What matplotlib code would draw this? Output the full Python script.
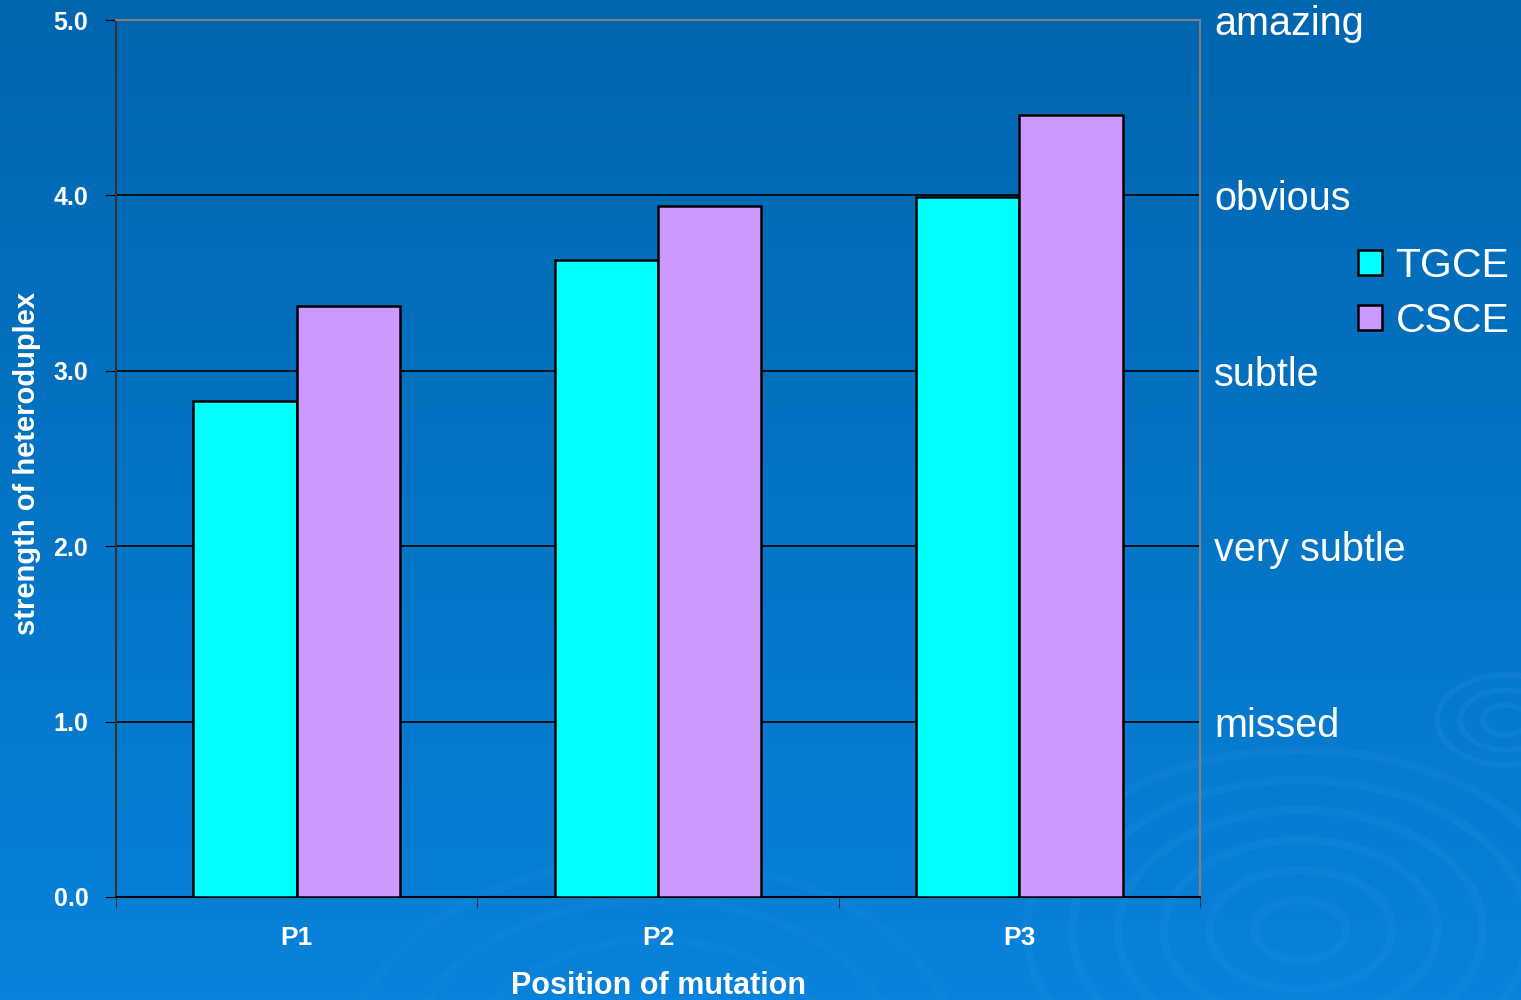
import numpy as np
import matplotlib.pyplot as plt
from matplotlib.patches import Patch, Circle

plt.rcParams['font.family'] = ['Liberation Sans', 'DejaVu Sans']

positions = ["P1", "P2", "P3"]
tgce = [2.83, 3.63, 3.99]
csce = [3.37, 3.94, 4.46]
right_levels = [1, 2, 3, 4, 5]
right_labels = ["missed", "very subtle", "subtle", "obvious", "amazing"]

fig = plt.figure(figsize=(15.21, 10), dpi=100)

# blue gradient background
bg = fig.add_axes([0, 0, 1, 1], zorder=-10)
grad = np.linspace(0, 1, 256).reshape(-1, 1)
c_top = np.array([0x00, 0x66, 0xb0]) / 255
c_bot = np.array([0x08, 0x82, 0xda]) / 255
img = c_top + (c_bot - c_top) * grad[..., None]
bg.imshow(img, aspect='auto', extent=[0, 1, 0, 1], origin='upper')
# faint ripples
for r in [0.03, 0.06, 0.09, 0.12, 0.15, 0.18]:
    bg.add_patch(Circle((0.855, 0.07), r, transform=bg.transAxes, fill=False,
                        ec='#2a95e6', lw=6, alpha=0.18))
for r in [0.12, 0.16, 0.2]:
    bg.add_patch(Circle((0.43, -0.06), r, transform=bg.transAxes, fill=False,
                        ec='#2a95e6', lw=6, alpha=0.12))
for r in [0.015, 0.03, 0.045]:
    bg.add_patch(Circle((0.99, 0.28), r, transform=bg.transAxes, fill=False,
                        ec='#2a8ee0', lw=4, alpha=0.25))
bg.set_xlim(0, 1)
bg.set_ylim(0, 1)
bg.axis('off')

ax = fig.add_axes([0.0763, 0.103, 0.7127, 0.877])
ax.set_facecolor('none')

x = np.arange(len(positions))
w = 0.2857
ax.bar(x - w / 2, tgce, w, color='#00ffff', edgecolor='black', lw=1.8, label='TGCE', zorder=3)
ax.bar(x + w / 2, csce, w, color='#cc99ff', edgecolor='black', lw=1.8, label='CSCE', zorder=3)

ax.set_xlim(-0.5, 2.5)
ax.set_ylim(0, 5)
ax.set_yticks(np.arange(0, 5.1, 1.0))
ax.set_yticklabels([f"{v:.1f}" for v in np.arange(0, 5.1, 1.0)], color='white',
                   fontsize=18, fontweight='bold')
ax.yaxis.grid(True, color='black', lw=1.2, zorder=0)
ax.set_axisbelow(True)

ax.set_xticks([-0.5, 0.5, 1.5, 2.5])
ax.set_xticklabels([])
ax.set_xticks(x, minor=True)
ax.set_xticklabels(positions, minor=True, color='white', fontsize=19, fontweight='bold')
ax.tick_params(axis='x', which='minor', length=0, pad=21)
ax.tick_params(axis='x', which='major', length=8, direction='out', color='#333333')
ax.tick_params(axis='y', length=8, direction='out', color='black', pad=12)

ax.set_xlabel("Position of mutation", color='white', fontsize=22, fontweight='bold', va='center')
ax.xaxis.set_label_coords(0.5, -0.102)
ax.set_ylabel("strength of heteroduplex", color='white', fontsize=21, fontweight='bold', va='center')
ax.yaxis.set_label_coords(-0.082, 0.494)

ax.spines['left'].set_color('#333333')
ax.spines['bottom'].set_color('black')
ax.spines['top'].set_color('#808080')
ax.spines['right'].set_color('#808080')
for s in ax.spines.values():
    s.set_linewidth(1.5)

ax2 = ax.twinx()
ax2.set_ylim(0, 5)
ax2.set_yticks(right_levels)
ax2.set_yticklabels(right_labels, color='white', fontsize=28.5)
ax2.tick_params(axis='y', length=0, pad=10)
for s in ax2.spines.values():
    s.set_visible(False)

handles = [Patch(facecolor='#00ffff', edgecolor='black', lw=1.8, label='TGCE'),
           Patch(facecolor='#cc99ff', edgecolor='black', lw=1.8, label='CSCE')]
fig.legend(handles=handles, loc='upper left', bbox_to_anchor=(0.893, 0.753), frameon=False,
           fontsize=29.5, labelcolor='white', handlelength=0.58, handleheight=0.58,
           handletextpad=0.33, labelspacing=0.42, borderpad=0, borderaxespad=0)

fig.savefig('out.png', dpi=100)
